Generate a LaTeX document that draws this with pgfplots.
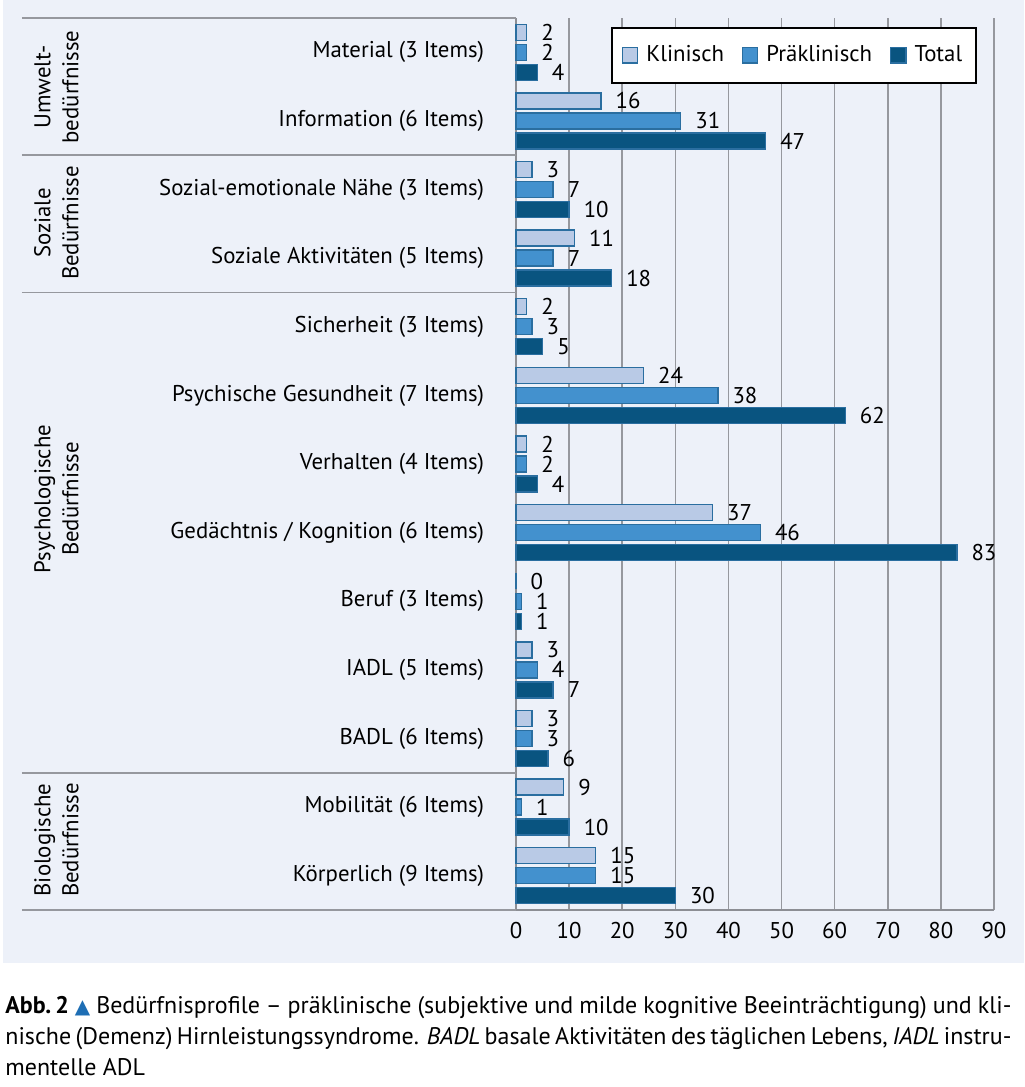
\documentclass[border=0pt]{standalone}
\usepackage{fontspec}
\setmainfont{PT Sans}
\newfontfamily\symfont{DejaVu Sans}
\usepackage{pgfplots}
\pgfplotsset{compat=1.18}
\definecolor{bgc}{RGB}{237,241,249}
\definecolor{klin}{RGB}{185,202,230}
\definecolor{prak}{RGB}{67,145,206}
\definecolor{totc}{RGB}{9,84,128}
\definecolor{edgec}{RGB}{42,110,160}
\definecolor{gridc}{RGB}{150,152,158}
\definecolor{axisc}{RGB}{140,142,148}
\definecolor{tric}{RGB}{30,110,180}
\begin{document}
\begin{tikzpicture}
\useasboundingbox (-258pt,-88.5pt) rectangle (254pt,455pt);
\fill[bgc] (-256.5pt,-26.5pt) rectangle (254pt,455pt);
\begin{axis}[
  at={(0pt,0pt)}, anchor=south west,
  scale only axis, width=239pt, height=446pt,
  xbar=2pt, bar width=8pt,
  xmin=0, xmax=90, xtick={0,10,...,90},
  ymin=-0.5, ymax=12.5, y dir=reverse,
  ytick={0,...,12},
  yticklabels={Material (3 Items), Information (6 Items), Sozial-emotionale Nähe (3 Items), Soziale Aktivitäten (5 Items), Sicherheit (3 Items), Psychische Gesundheit (7 Items), Verhalten (4 Items), Gedächtnis / Kognition (6 Items), Beruf (3 Items), IADL (5 Items), BADL (6 Items), Mobilität (6 Items), Körperlich (9 Items)},
  axis x line*=bottom, axis y line*=left,
  axis line style={-, draw=axisc, line width=1pt},
  every outer x axis line/.append style={-},
  every outer y axis line/.append style={-},
  tick style={draw=none},
  xmajorgrids, grid style={gridc, line width=0.8pt},
  /pgf/number format/assume math mode=true,
  tick label style={font=\fontsize{11.4}{13}\selectfont, text=black},
  yticklabel style={anchor=east, inner sep=0pt, xshift=-11.5pt},
  xticklabel style={anchor=north, inner sep=0pt, yshift=-6pt},
  nodes near coords,
  every node near coord/.append style={anchor=west, inner sep=0pt, xshift=7pt, font=\fontsize{11.4}{13}\selectfont, text=black},
  clip=false,
  legend style={at={(0.9644,0.9899)}, anchor=north east, draw=black, line width=0.8pt, fill=white, legend columns=3, font=\fontsize{11.4}{13}\selectfont, inner xsep=5pt, inner ysep=7pt, /tikz/every even column/.append style={column sep=7pt}, /tikz/every odd column/.append style={column sep=2pt}},
  legend image code/.code={\draw[#1, line width=0.6pt] (0pt,-3.8pt) rectangle (7.6pt,3.8pt);},
]
\addplot[fill=klin, draw=edgec, line width=0.7pt, bar shift=10pt] coordinates {(2,0) (16,1) (3,2) (11,3) (2,4) (24,5) (2,6) (37,7) (0,8) (3,9) (3,10) (9,11) (15,12)};
\addplot[fill=prak, draw=edgec, line width=0.7pt, bar shift=0pt] coordinates {(2,0) (31,1) (7,2) (7,3) (3,4) (38,5) (2,6) (46,7) (1,8) (4,9) (3,10) (1,11) (15,12)};
\addplot[fill=totc, draw=edgec, line width=0.7pt, bar shift=-10pt] coordinates {(4,0) (47,1) (10,2) (18,3) (5,4) (62,5) (4,6) (83,7) (1,8) (7,9) (6,10) (10,11) (30,12)};
\legend{Klinisch, Präklinisch, Total}
\end{axis}
\draw[gridc, line width=0.8pt] (-247pt,446pt) -- (0pt,446pt);
\draw[gridc, line width=0.8pt] (-247pt,377.4pt) -- (0pt,377.4pt);
\draw[gridc, line width=0.8pt] (-247pt,308.8pt) -- (0pt,308.8pt);
\draw[gridc, line width=0.8pt] (-247pt,68.6pt) -- (0pt,68.6pt);
\draw[gridc, line width=0.8pt] (-247pt,0pt) -- (0pt,0pt);
\begin{scope}[every node/.style={rotate=90, align=center, font=\fontsize{11.4}{14}\selectfont}]
\node at (-229.75pt,411.5pt) {Umwelt-\\bedürfnisse};
\node at (-229.75pt,343.5pt) {Soziale\\Bedürfnisse};
\node at (-229.75pt,205.5pt) {Psychologische\\Bedürfnisse};
\node at (-229.75pt,35pt) {Biologische\\Bedürfnisse};
\end{scope}
\node[anchor=base west, inner sep=0pt] at (-255.5pt,-51.5pt) {\parbox[t]{503pt}{\fontsize{12}{15.5}\selectfont\textbf{Abb.\,2} {\color{tric}\symfont\fontsize{10}{10}\selectfont ▲} Bedürfnisprofile – präklinische (subjektive und milde kognitive Beeinträchtigung) und kli-\linebreak nische (Demenz) Hirnleistungssyndrome. \textit{BADL} basale Aktivitäten des täglichen Lebens, \textit{IADL} instru-\linebreak mentelle ADL}};
\end{tikzpicture}
\end{document}
